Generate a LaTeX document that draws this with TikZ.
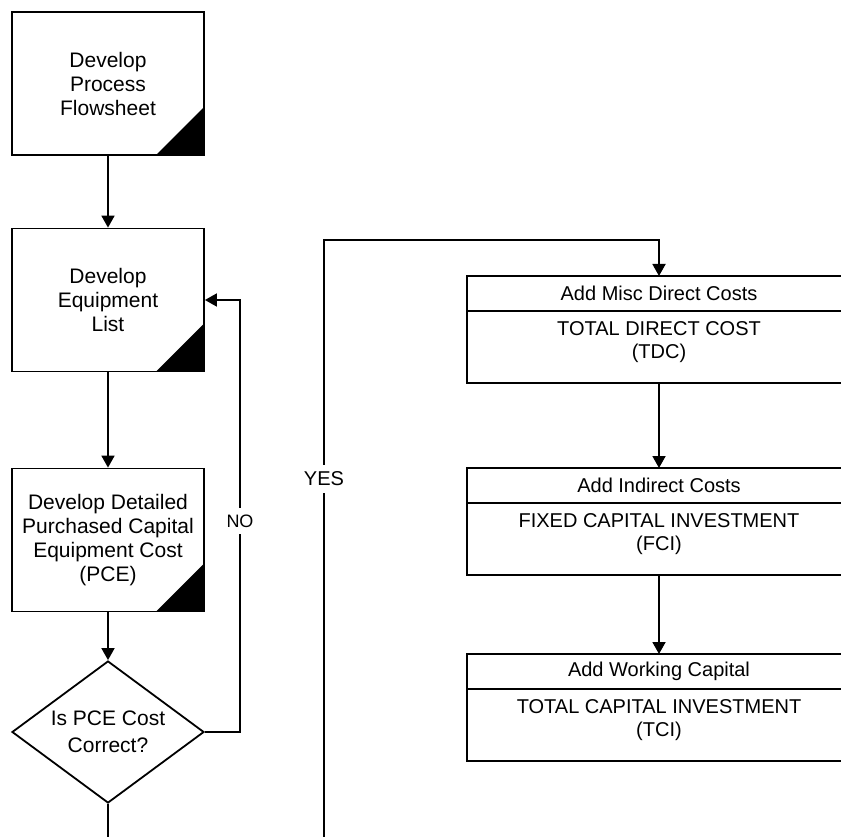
\documentclass[tikz,border=0pt]{standalone}
\usepackage{fontspec}
\setmainfont{Liberation Sans}
\usetikzlibrary{shapes.geometric, arrows.meta, positioning, calc}

\newcommand{\folga}{\rule[-14pt]{0pt}{0pt}}

\begin{document}
\begin{tikzpicture}[x=1pt,y=-1pt,line width=1.8pt,
    font=\fontsize{20}{23}\selectfont,
    seta/.style={-{Triangle[length=12pt,width=13pt]}},
    etapa/.style={rectangle,draw,minimum width=192pt,minimum height=143pt,inner sep=0,align=center,
      font=\fontsize{21}{24}\selectfont,
      path picture={\fill (path picture bounding box.south east) -- ++(-48pt,0pt) -- ++(48pt,48pt) -- cycle;}},
    decisao/.style={diamond,draw,aspect=1.35,minimum width=192pt,minimum height=142pt,inner sep=0,align=center,
      font=\fontsize{21}{27}\selectfont},
    cabeca/.style={rectangle,draw,minimum width=384pt,minimum height=35pt,inner sep=0,outer sep=0},
    corpo/.style={rectangle,draw,minimum width=384pt,minimum height=72pt,inner sep=0,outer sep=0,align=center},
    rotulo/.style={fill=white,inner xsep=2pt,inner ysep=7pt}]

  \useasboundingbox (0,0) rectangle (841,837);
  \clip (0,0) rectangle (841,837);

  % coluna da esquerda: etapas de estimativa do equipamento
  \node[etapa] (fluxo) at (108,83.5) {Develop\\Process\\Flowsheet};
  \node[etapa] (lista) at (108,300) {Develop\\Equipment\\List};
  \node[etapa] (pce) at (108,540) {Develop Detailed\\Purchased Capital\\Equipment Cost\\(PCE)};
  \node[decisao] (teste) at (108,732) {Is PCE Cost\\Correct?};

  \draw[seta] (fluxo) -- (lista);
  \draw[seta] (lista) -- (pce);
  \draw[seta] (pce) -- (teste);

  % coluna da direita: custos acumulados
  \node[cabeca] (diretos) at (659,293.5) {Add Misc Direct Costs};
  \node[corpo,below=0pt of diretos] (tdc) {TOTAL DIRECT COST\\(TDC)\folga};
  \node[cabeca] (indiretos) at (659,485.5) {Add Indirect Costs};
  \node[corpo,below=0pt of indiretos] (fci) {FIXED CAPITAL INVESTMENT\\(FCI)\folga};
  \node[cabeca] (giro) at (659,671.5) {Add Working Capital};
  \node[corpo,below=0pt of giro] (tci) {TOTAL CAPITAL INVESTMENT\\(TCI)\folga};

  \draw[seta] (tdc) -- (indiretos);
  \draw[seta] (fci) -- (giro);

  % ramo NO volta para a lista de equipamentos
  \coordinate (nao) at (240,732);
  \draw[seta] (teste.east) -- (nao) |- (lista.east);
  \node[rotulo,font=\fontsize{18}{20}\selectfont] (naorot) at (240,521) {NO};

  % ramo YES passa por baixo e sobe ate os custos diretos
  \coordinate (voltabaixo) at (324,880);
  \coordinate (voltacima) at (324,240);
  \draw[seta] (teste.south) |- (voltabaixo) -- (voltacima) -| (diretos.north);
  \node[rotulo] (simrot) at (324,479) {YES};
\end{tikzpicture}
\end{document}
